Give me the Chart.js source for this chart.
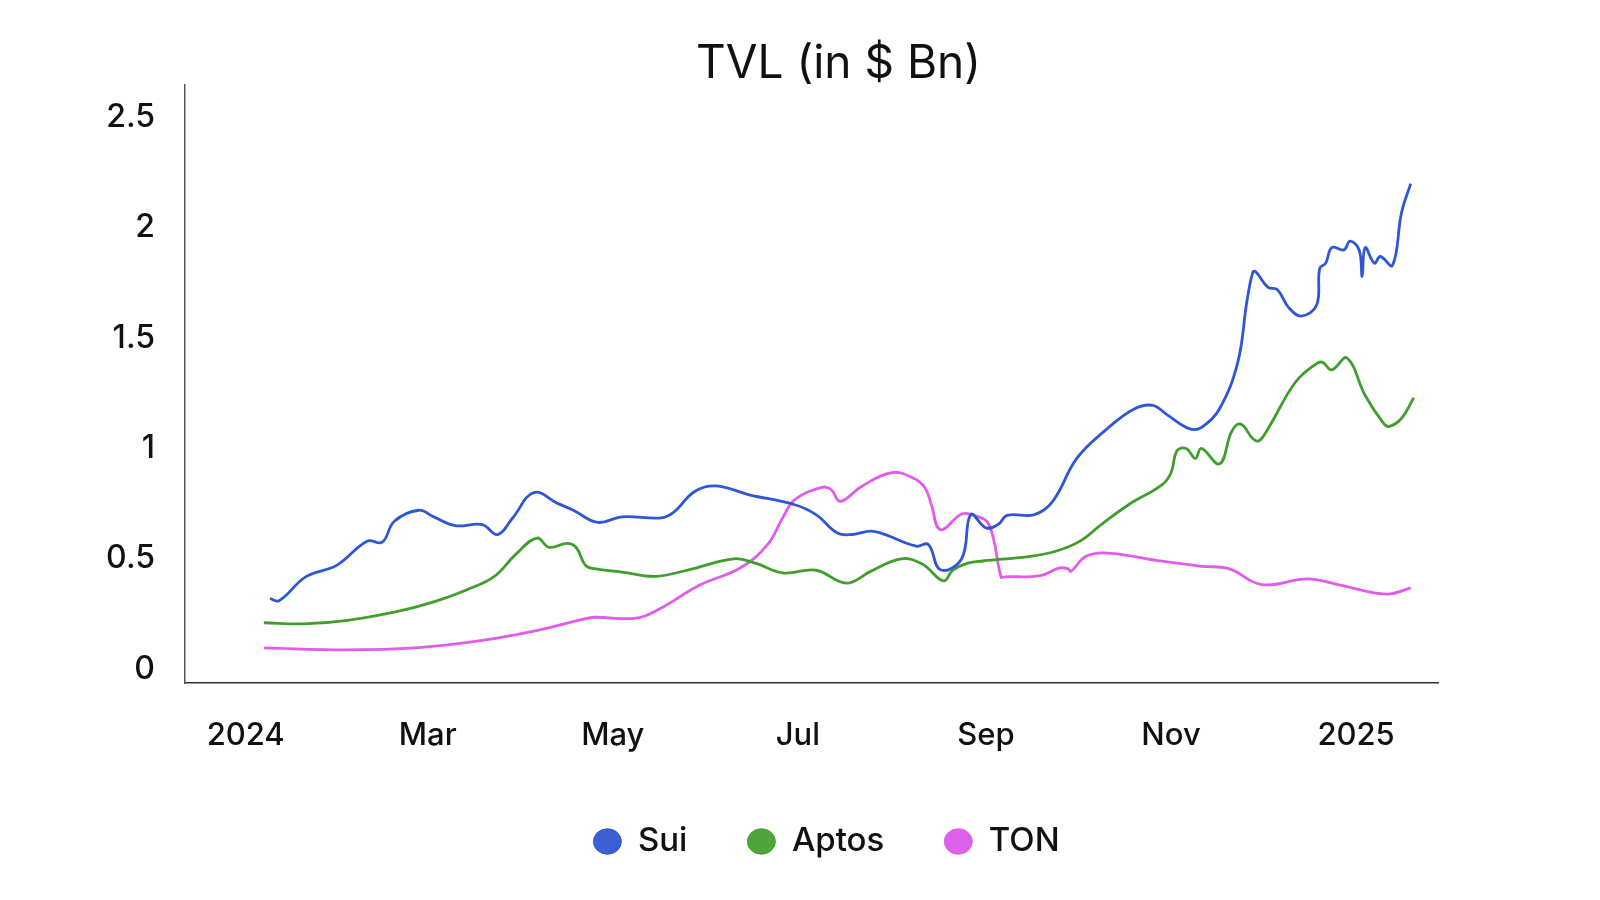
<!DOCTYPE html>
<html>
<head>
<meta charset="utf-8">
<title>TVL (in $ Bn)</title>
<script src="https://cdn.jsdelivr.net/npm/chart.js@4.4.1/dist/chart.umd.min.js"></script>
<style>
  html, body { margin: 0; padding: 0; background: #fff; }
  #wrap { width: 1600px; height: 900px; }
</style>
</head>
<body>
<div id="wrap"><canvas id="tvl"></canvas></div>
<script>
// TVL in $ Bn (approx.)
const suiDates = [
  '2024-01-09','2024-01-12','2024-01-21','2024-01-31','2024-02-10','2024-02-15','2024-02-19','2024-02-27',
  '2024-03-03','2024-03-10','2024-03-19','2024-03-24','2024-03-29','2024-04-05','2024-04-13','2024-04-18',
  '2024-04-26','2024-05-04','2024-05-17','2024-05-21','2024-05-28','2024-06-04','2024-06-15','2024-06-30',
  '2024-07-07','2024-07-14','2024-07-19','2024-07-26','2024-08-09','2024-08-13','2024-08-17','2024-08-24',
  '2024-08-27','2024-09-01','2024-09-05','2024-09-08','2024-09-17','2024-09-23','2024-10-01','2024-10-11',
  '2024-10-20','2024-10-26','2024-10-31','2024-11-07','2024-11-11','2024-11-17','2024-11-23','2024-11-26',
  '2024-11-28','2024-11-29','2024-12-03','2024-12-06','2024-12-10','2024-12-14','2024-12-19','2024-12-20',
  '2024-12-22','2024-12-24','2024-12-28','2024-12-30','2025-01-02','2025-01-03','2025-01-04','2025-01-07',
  '2025-01-09','2025-01-13','2025-01-16','2025-01-19'
];
const suiValues = [
  0.32, 0.31, 0.42, 0.47, 0.58, 0.575, 0.67, 0.72,
  0.69, 0.65, 0.655, 0.61, 0.685, 0.80, 0.75, 0.72,
  0.665, 0.69, 0.685, 0.71, 0.805, 0.83, 0.79, 0.745,
  0.70, 0.617, 0.61, 0.624, 0.557, 0.565, 0.45, 0.50,
  0.70, 0.64, 0.655, 0.697, 0.70, 0.76, 0.956, 1.09,
  1.18, 1.195, 1.15, 1.09, 1.095, 1.18, 1.39, 1.665,
  1.80, 1.80, 1.73, 1.72, 1.635, 1.60, 1.65, 1.815,
  1.84, 1.91, 1.90, 1.94, 1.90, 1.78, 1.91, 1.84,
  1.87, 1.83, 2.07, 2.20
];

const aptosDates = [
  '2024-01-07','2024-01-20','2024-02-03','2024-02-19','2024-03-03','2024-03-14','2024-03-23','2024-03-30',
  '2024-04-06','2024-04-10','2024-04-16','2024-04-19','2024-04-22','2024-04-25','2024-05-04','2024-05-15',
  '2024-05-26','2024-06-10','2024-06-17','2024-06-26','2024-07-07','2024-07-17','2024-07-25','2024-08-04',
  '2024-08-11','2024-08-18','2024-08-21','2024-08-26','2024-08-31','2024-09-15','2024-09-24','2024-10-02',
  '2024-10-09','2024-10-18','2024-10-29','2024-11-01','2024-11-03','2024-11-06','2024-11-09','2024-11-11',
  '2024-11-17','2024-11-21','2024-11-24','2024-11-28','2024-11-30','2024-12-03','2024-12-12','2024-12-19',
  '2024-12-21','2024-12-24','2024-12-29','2025-01-04','2025-01-10','2025-01-12','2025-01-16','2025-01-20'
];
const aptosValues = [
  0.21, 0.205, 0.22, 0.258, 0.305, 0.36, 0.42, 0.52,
  0.594, 0.552, 0.57, 0.55, 0.47, 0.455, 0.44, 0.42,
  0.45, 0.50, 0.48, 0.436, 0.448, 0.39, 0.443, 0.50,
  0.476, 0.40, 0.447, 0.48, 0.49, 0.51, 0.534, 0.58,
  0.655, 0.745, 0.835, 0.89, 0.99, 1.00, 0.955, 1.00,
  0.93, 1.077, 1.11, 1.044, 1.035, 1.09, 1.30, 1.385,
  1.39, 1.356, 1.41, 1.24, 1.115, 1.10, 1.137, 1.23
];

const tonDates = [
  '2024-01-07','2024-02-03','2024-02-26','2024-03-19','2024-04-05','2024-04-21','2024-04-25','2024-05-08',
  '2024-05-15','2024-05-30','2024-06-12','2024-06-21','2024-06-26','2024-06-30','2024-07-09','2024-07-12',
  '2024-07-15','2024-07-22','2024-08-01','2024-08-08','2024-08-12','2024-08-14','2024-08-17','2024-08-24',
  '2024-08-28','2024-09-02','2024-09-06','2024-09-07','2024-09-19','2024-09-25','2024-09-28','2024-09-29',
  '2024-10-04','2024-10-11','2024-10-29','2024-11-11','2024-11-20','2024-12-01','2024-12-16','2024-12-26',
  '2025-01-11','2025-01-19'
];
const tonValues = [
  0.096, 0.087, 0.096, 0.13, 0.172, 0.225, 0.235, 0.23,
  0.262, 0.383, 0.458, 0.564, 0.685, 0.768, 0.824, 0.813,
  0.76, 0.828, 0.89, 0.866, 0.82, 0.745, 0.632, 0.703,
  0.697, 0.655, 0.416, 0.418, 0.424, 0.458, 0.455, 0.443,
  0.511, 0.526, 0.489, 0.466, 0.455, 0.383, 0.409, 0.383,
  0.34, 0.368
];

const xTickDates = ['2024-01-01', '2024-03-01', '2024-05-01', '2024-07-01', '2024-09-01', '2024-11-01', '2025-01-01'];
const xTickLabels = ['2024', 'Mar', 'May', 'Jul', 'Sep', 'Nov', '2025'];
const yTicks = [0, 0.5, 1, 1.5, 2, 2.5];

// days since 2024-01-01 (no date adapter needed)
const origen = Date.UTC(2024, 0, 1);
function dia(s) {
  const [a, m, d] = s.split('-').map(Number);
  return (Date.UTC(a, m - 1, d) - origen) / 86400000;
}
const puntos = (fechas, valores) => fechas.map((f, i) => ({ x: dia(f), y: valores[i] }));

// title and legend sit a bit right of the plot centre in the original
const desplazar = {
  id: 'desplazar',
  afterLayout(chart) {
    chart.titleBlock.left += 67; chart.titleBlock.right += 67;
    chart.legend.left += 55; chart.legend.right += 55;
  }
};

const fuente = "Inter, 'Open Sans', sans-serif";

const ctx = document.getElementById('tvl').getContext('2d');
new Chart(ctx, {
  type: 'line',
  data: {
    datasets: [
      { label: 'Sui', data: puntos(suiDates, suiValues), borderColor: '#2f56d6', backgroundColor: '#3d5fd4' },
      { label: 'Aptos', data: puntos(aptosDates, aptosValues), borderColor: '#3f9e2c', backgroundColor: '#4fa53a' },
      { label: 'TON', data: puntos(tonDates, tonValues), borderColor: '#e05ce9', backgroundColor: '#df60eb' }
    ]
  },
  options: {
    responsive: true,
    maintainAspectRatio: false,
    animation: false,
    layout: { padding: { left: 105, right: 162, top: 43, bottom: 32 } },
    elements: {
      line: { borderWidth: 2.8, tension: 0.4, fill: false },
      point: { radius: 0, hoverRadius: 0 }
    },
    scales: {
      x: {
        type: 'linear',
        min: dia('2023-12-12'),
        max: dia('2025-01-28'),
        afterBuildTicks: axis => { axis.ticks = xTickDates.map(f => ({ value: dia(f) })); },
        afterFit: axis => { axis.height = 82; },
        grid: { display: false, drawTicks: false },
        border: { display: true, color: '#333', width: 1.5 },
        ticks: {
          color: '#111',
          padding: 34,
          maxRotation: 0,
          autoSkip: false,
          font: { family: fuente, size: 31, weight: '500' },
          callback: (v, i) => xTickLabels[i]
        }
      },
      y: {
        min: -0.063,
        max: 2.65,
        afterBuildTicks: axis => { axis.ticks = yTicks.map(v => ({ value: v })); },
        afterFit: axis => { axis.width = 80; },
        grid: { display: false, drawTicks: false },
        border: { display: true, color: '#555', width: 1.5 },
        ticks: {
          color: '#111',
          padding: 30,
          font: { family: fuente, size: 32, weight: '500' },
          callback: v => String(v)
        }
      }
    },
    plugins: {
      title: {
        display: true,
        text: 'TVL (in $ Bn)',
        color: '#111',
        padding: { top: 0, bottom: 0 },
        font: { family: fuente, size: 46, weight: '400', lineHeight: 0.9 }
      },
      legend: {
        position: 'bottom',
        labels: {
          usePointStyle: true,
          pointStyle: 'circle',
          pointStyleWidth: 28,
          boxHeight: 18,
          padding: 60,
          color: '#111',
          font: { family: fuente, size: 33, weight: '500' }
        }
      },
      tooltip: { enabled: false }
    }
  },
  plugins: [desplazar]
});
</script>
</body>
</html>
